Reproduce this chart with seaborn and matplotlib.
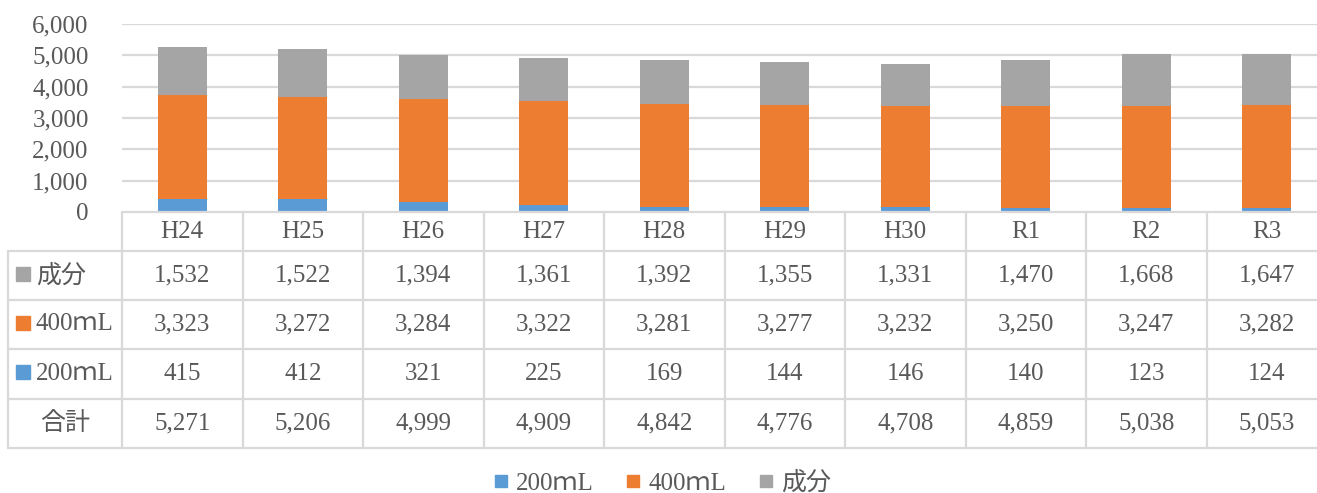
import matplotlib
matplotlib.use("Agg")
import matplotlib.pyplot as plt
import seaborn as sns
from matplotlib.lines import Line2D
from matplotlib.ticker import FuncFormatter

# data
years = ["H24", "H25", "H26", "H27", "H28", "H29", "H30", "R1", "R2", "R3"]
ml200 = [415, 412, 321, 225, 169, 144, 146, 140, 123, 124]
ml400 = [3323, 3272, 3284, 3322, 3281, 3277, 3232, 3250, 3247, 3282]
seibun = [1532, 1522, 1394, 1361, 1392, 1355, 1331, 1470, 1668, 1647]
total = [5271, 5206, 4999, 4909, 4842, 4776, 4708, 4859, 5038, 5053]

names = ["200ｍL", "400ｍL", "成分"]
colors = ["#5B9BD5", "#ED7D31", "#A5A5A5"]
text_c = "#595959"
grid_c = "#D9D9D9"

sns.set_style("white")
plt.rcParams["font.family"] = ["Liberation Serif", "Noto Sans CJK JP"]
fs = 18

W, H = 1317, 493
fig = plt.figure(figsize=(W / 100, H / 100), dpi=100)

# =====================================================
# BARS
# =====================================================
col_w = 120.5
left_px, right_px = 122, 122 + 10 * col_w
ax = fig.add_axes([left_px / W, (H - 212) / H, (right_px - left_px) / W, 188 / H])

cum1 = ml200
cum2 = [a + b for a, b in zip(ml200, ml400)]
cum3 = [a + b + c for a, b, c in zip(ml200, ml400, seibun)]
for heights, c in zip([cum3, cum2, cum1], colors[::-1]):
    sns.barplot(x=years, y=heights, color=c, saturation=1, width=0.41,
                linewidth=0, ax=ax)

ax.set_xlim(-0.5, 9.5)
ax.set_ylim(0, 6000)
ax.set_yticks(range(0, 6001, 1000))
ax.yaxis.set_major_formatter(FuncFormatter(lambda v, p: f"{int(v):,}"))
ax.tick_params(axis="y", length=0, pad=24, labelsize=fs, labelcolor=text_c)
ax.set_xticks([])
ax.set_xlabel("")
ax.set_ylabel("")
for v in range(1000, 6001, 1000):
    ax.axhline(v, color=grid_c, lw=1.6, zorder=0)
for s in ax.spines.values():
    s.set_visible(False)

# =====================================================
# DATA TABLE
# =====================================================
lab_px = 8
x0 = -0.5 - (left_px - lab_px) / col_w
tx = fig.add_axes([lab_px / W, (H - 448) / H, (right_px - lab_px) / W, 236 / H])
tx.set_xlim(x0, 9.5)
tx.set_ylim(448, 212)
tx.axis("off")

rows_y = [212, 251, 300, 349, 399, 448]
lw = 1.6
# horizontals
tx.plot([-0.5, 9.5], [rows_y[0]] * 2, color=grid_c, lw=lw, clip_on=False)
for y in rows_y[1:]:
    tx.plot([x0, 9.5], [y, y], color=grid_c, lw=lw, clip_on=False)
# verticals
tx.plot([x0, x0], [rows_y[1], rows_y[-1]], color=grid_c, lw=lw, clip_on=False)
for i in range(10):
    tx.plot([i - 0.5, i - 0.5], [rows_y[0], rows_y[-1]], color=grid_c, lw=lw, clip_on=False)

mid = [(a + b) / 2 for a, b in zip(rows_y[:-1], rows_y[1:])]
for i, yr in enumerate(years):
    tx.text(i, mid[0], yr, ha="center", va="center", fontsize=fs, color=text_c)

table_rows = [(names[2], seibun, colors[2]), (names[1], ml400, colors[1]),
              (names[0], ml200, colors[0]), ("合計", total, None)]
for r, (lab, vals, c) in enumerate(table_rows):
    y = mid[r + 1]
    if c is not None:
        tx.plot([x0 + 15 / col_w], [y - 2], marker="s", ms=10, color=c, clip_on=False)
        tx.text(x0 + 28 / col_w, y, lab, ha="left", va="center", fontsize=fs, color=text_c)
    else:
        tx.text(x0 + 57 / col_w, y, lab, ha="center", va="center", fontsize=fs, color=text_c)
    for i, v in enumerate(vals):
        tx.text(i, y, f"{v:,}", ha="center", va="center", fontsize=fs, color=text_c)

# =====================================================
# LEGEND
# =====================================================
handles = [Line2D([], [], marker="s", ls="none", ms=9, color=c) for c in colors]
fig.legend(handles, names, loc="center", bbox_to_anchor=(662 / W, 1 - 483 / H),
           ncol=3, frameon=False, fontsize=fs, labelcolor=text_c,
           handlelength=0.6, handletextpad=0.3, columnspacing=1.3)

fig.savefig("out.png", dpi=100)
